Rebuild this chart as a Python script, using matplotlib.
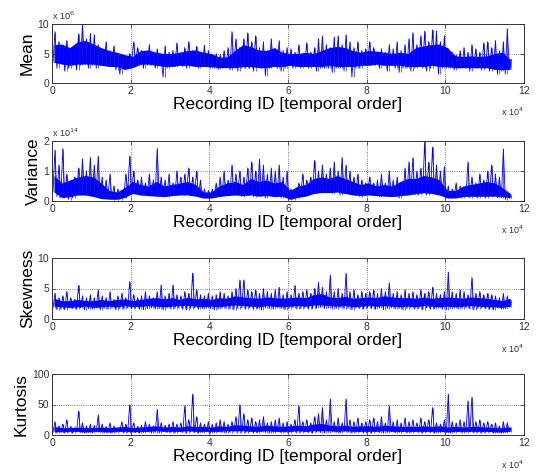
import numpy as np
import matplotlib.pyplot as plt

plt.rcParams['font.family'] = ['Liberation Sans', 'DejaVu Sans']

# Values.
# *_lo / *_hi : lowest and highest value in each bin of 1000 recordings
# *_core_lo / *_core_hi : edges of the dense band, every 2000 recordings
bin_size = 1000
core_step = 2000

mean_hi = [8.7, 7.0, 6.0, 7.2, 5.5, 6.0, 8.3, 10.0, 7.5, 8.4,
           8.2, 6.5, 5.5, 7.0, 5.5, 6.3, 5.0, 4.8, 4.5, 5.0,
           7.0, 6.0, 5.5, 5.2, 6.5, 5.0, 5.8, 4.5, 6.3, 5.2,
           5.5, 6.8, 5.2, 6.0, 7.0, 5.5, 6.2, 5.2, 6.4, 5.5,
           4.5, 5.0, 4.8, 5.5, 6.0, 8.7, 7.5, 6.0, 7.5, 8.5,
           7.0, 8.0, 6.0, 7.0, 5.5, 7.5, 5.8, 7.2, 5.5, 6.0,
           5.8, 5.2, 6.5, 5.0, 6.8, 5.2, 6.0, 7.5, 8.0, 6.5,
           6.0, 7.8, 8.0, 6.5, 8.2, 7.0, 6.0, 7.0, 5.5, 5.8,
           7.0, 6.0, 5.2, 5.8, 5.2, 6.5, 5.8, 7.0, 5.5, 6.5,
           7.5, 8.5, 6.5, 8.0, 8.8, 7.0, 9.0, 8.8, 7.0, 8.0,
           5.8, 5.2, 4.8, 5.5, 6.0, 5.2, 6.5, 5.8, 5.2, 6.8,
           7.0, 6.0, 7.2, 5.5, 7.0, 9.2, 4.0]
mean_lo = [3.5, 2.5, 3.5, 2.0, 2.5, 3.0, 2.2, 3.0, 3.5, 2.5,
           3.0, 2.5, 3.0, 3.0, 3.2, 2.8, 2.2, 1.5, 2.5, 3.0,
           3.5, 3.5, 3.0, 2.5, 3.0, 3.0, 2.5, 3.0, 1.0, 2.5,
           3.0, 2.8, 3.0, 2.8, 2.5, 3.0, 3.0, 2.5, 3.0, 2.7,
           2.5, 2.5, 2.3, 2.8, 2.8, 2.2, 3.0, 2.0, 2.5, 2.5,
           2.5, 2.0, 3.0, 2.5, 1.2, 2.5, 3.0, 2.5, 2.0, 2.5,
           3.0, 2.5, 3.0, 2.5, 2.8, 2.5, 3.0, 2.0, 2.5, 2.5,
           2.5, 1.8, 2.5, 2.5, 2.0, 3.0, 1.0, 2.5, 2.5, 3.0,
           3.0, 3.0, 3.0, 2.5, 3.0, 2.0, 3.0, 2.5, 1.8, 2.5,
           2.5, 2.0, 2.5, 2.8, 2.5, 2.0, 2.5, 3.0, 1.5, 2.5,
           2.5, 2.5, 2.2, 2.5, 2.8, 2.5, 2.0, 2.5, 2.5, 2.2,
           2.5, 2.0, 2.5, 1.5, 2.0, 1.5, 2.5]
mean_core_hi = [6.5, 6.6, 6.0, 7.0, 7.2, 6.6, 6.0, 5.5, 5.2, 4.8,
                4.5, 5.5, 5.6, 5.2, 5.0, 5.0, 5.2, 5.5, 5.6, 5.2,
                5.0, 4.4, 4.4, 5.5, 6.5, 6.2, 5.6, 5.5, 6.0, 5.2,
                5.0, 5.0, 5.2, 5.0, 5.5, 6.0, 6.2, 6.0, 5.5, 5.2,
                5.5, 5.4, 5.2, 5.0, 5.2, 5.0, 6.0, 6.3, 6.5, 6.6,
                6.0, 4.6, 4.5, 4.6, 4.5, 4.6, 5.0, 5.2, 4.0]
mean_core_lo = [3.5, 3.2, 3.0, 3.2, 3.2, 3.2, 3.0, 2.8, 2.8, 2.3,
                2.6, 3.2, 3.2, 3.0, 2.8, 2.8, 3.0, 3.0, 2.8, 2.8,
                2.8, 2.6, 2.6, 2.6, 2.8, 2.8, 2.6, 2.6, 2.8, 2.8,
                3.0, 2.8, 2.8, 2.8, 2.8, 3.0, 2.8, 2.8, 2.8, 3.0,
                3.0, 3.2, 3.0, 3.0, 3.0, 2.8, 2.8, 2.8, 3.0, 2.8,
                2.8, 2.6, 2.6, 2.6, 2.6, 2.6, 2.3, 2.3, 2.3]

var_hi = [1.7, 1.2, 1.75, 0.9, 0.6, 0.8, 1.1, 1.4, 1.0, 1.45,
          1.2, 1.5, 0.8, 0.7, 0.9, 0.5, 0.4, 0.3, 0.9, 1.5,
          1.0, 0.7, 0.8, 0.6, 0.9, 0.7, 1.75, 0.8, 0.7, 0.9,
          0.6, 1.0, 0.8, 0.9, 1.1, 0.8, 1.0, 0.7, 0.4, 0.35,
          0.4, 0.6, 0.8, 1.0, 0.7, 1.2, 0.9, 1.0, 0.8, 1.1,
          1.3, 1.0, 1.4, 1.2, 0.9, 1.1, 1.0, 1.2, 0.8, 1.0,
          0.4, 0.3, 0.6, 0.9, 0.7, 0.8, 1.35, 1.0, 1.2, 0.9,
          1.1, 1.3, 1.0, 1.45, 1.2, 1.0, 0.8, 0.9, 0.7, 0.6,
          0.8, 0.6, 0.7, 0.9, 0.6, 1.0, 0.7, 0.8, 0.6, 1.1,
          1.3, 1.45, 1.0, 1.1, 2.0, 1.3, 1.8, 1.2, 1.0, 1.15,
          0.5, 0.4, 0.6, 0.5, 0.4, 1.3, 0.8, 0.6, 0.9, 0.7,
          1.0, 1.2, 0.9, 0.8, 1.74, 0.3, 0.2]
var_lo = [0.3, 0.15, 0.1, 0.1, 0.05, 0.1, 0.2, 0.2, 0.25, 0.2,
          0.2, 0.25, 0.15, 0.1, 0.15, 0.05, 0.05, 0.05, 0.1, 0.3,
          0.3, 0.25, 0.2, 0.2, 0.25, 0.2, 0.25, 0.2, 0.15, 0.15,
          0.2, 0.2, 0.25, 0.2, 0.3, 0.2, 0.2, 0.15, 0.1, 0.1,
          0.1, 0.15, 0.2, 0.25, 0.2, 0.25, 0.2, 0.25, 0.15, 0.2,
          0.2, 0.15, 0.2, 0.25, 0.1, 0.2, 0.15, 0.2, 0.1, 0.15,
          0.05, 0.05, 0.1, 0.2, 0.2, 0.25, 0.3, 0.3, 0.3, 0.35,
          0.3, 0.25, 0.3, 0.2, 0.3, 0.25, 0.2, 0.2, 0.15, 0.2,
          0.25, 0.2, 0.2, 0.15, 0.2, 0.2, 0.2, 0.15, 0.1, 0.2,
          0.2, 0.3, 0.2, 0.2, 0.25, 0.2, 0.3, 0.25, 0.2, 0.2,
          0.1, 0.1, 0.15, 0.1, 0.1, 0.15, 0.1, 0.15, 0.1, 0.15,
          0.1, 0.15, 0.2, 0.1, 0.1, 0.05, 0.1]
var_core_hi = [0.85, 0.6, 0.7, 0.8, 0.85, 0.8, 0.6, 0.35, 0.3, 0.45,
               0.65, 0.55, 0.5, 0.65, 0.5, 0.55, 0.6, 0.65, 0.55, 0.3,
               0.3, 0.5, 0.6, 0.65, 0.55, 0.75, 0.65, 0.7, 0.6, 0.65,
               0.35, 0.5, 0.55, 0.75, 0.8, 0.75, 0.85, 0.75, 0.65, 0.55,
               0.6, 0.5, 0.55, 0.5, 0.65, 0.75, 0.75, 0.85, 0.8, 0.7,
               0.35, 0.35, 0.5, 0.55, 0.6, 0.65, 0.6, 0.45, 0.25]
var_core_lo = [0.3, 0.12, 0.15, 0.2, 0.2, 0.15, 0.08, 0.06, 0.06, 0.12,
               0.25, 0.2, 0.18, 0.16, 0.15, 0.18, 0.2, 0.2, 0.16, 0.1,
               0.1, 0.15, 0.18, 0.2, 0.18, 0.2, 0.16, 0.18, 0.15, 0.16,
               0.06, 0.12, 0.16, 0.25, 0.28, 0.28, 0.3, 0.25, 0.2, 0.18,
               0.2, 0.18, 0.16, 0.15, 0.18, 0.2, 0.25, 0.28, 0.25, 0.2,
               0.1, 0.1, 0.15, 0.16, 0.16, 0.16, 0.16, 0.15, 0.1]

skew_hi = [4.2, 3.5, 3.8, 4.5, 3.5, 3.2, 5.5, 3.8, 3.5, 4.0,
           3.5, 4.8, 3.8, 3.5, 4.5, 3.2, 3.8, 4.2, 3.5, 6.1,
           4.0, 3.5, 3.8, 4.5, 3.8, 3.5, 4.5, 5.6, 3.8, 4.2,
           5.6, 4.0, 3.8, 4.5, 4.2, 7.5, 4.8, 4.0, 3.8, 4.2,
           3.8, 4.0, 4.5, 4.2, 3.8, 4.5, 5.0, 6.4, 6.4, 4.8,
           4.5, 4.8, 4.2, 5.0, 4.5, 4.2, 4.8, 5.2, 4.0, 4.5,
           4.0, 5.5, 4.2, 4.5, 4.8, 4.2, 5.0, 6.0, 5.2, 4.5,
           7.2, 4.5, 5.0, 4.2, 7.5, 4.5, 4.8, 4.0, 4.5, 4.2,
           4.5, 4.8, 4.2, 5.0, 4.5, 5.9, 4.2, 4.5, 4.0, 4.8,
           4.2, 4.5, 4.0, 4.8, 4.2, 4.5, 5.2, 4.2, 4.0, 4.5,
           7.7, 4.5, 4.2, 4.8, 4.5, 4.0, 6.8, 4.2, 4.5, 4.0,
           4.2, 4.0, 3.8, 3.5, 4.2, 3.8, 3.0]
skew_lo = [1.8, 1.5, 1.6, 1.5, 1.8, 1.7, 1.6, 1.8, 1.5, 1.7,
           1.6, 1.8, 1.5, 1.7, 1.6, 1.8, 1.5, 1.7, 1.6, 1.8,
           1.7, 1.8, 1.6, 1.5, 1.7, 1.8, 1.6, 1.7, 1.5, 1.8,
           1.6, 1.7, 1.8, 1.6, 1.5, 1.7, 1.8, 1.6, 1.7, 1.8,
           1.7, 1.5, 1.6, 1.8, 1.7, 1.6, 1.5, 1.7, 1.8, 1.6,
           1.8, 1.6, 1.7, 1.5, 1.8, 1.7, 1.6, 1.8, 1.7, 1.5,
           1.7, 1.8, 1.6, 1.7, 1.8, 1.6, 1.7, 1.8, 1.9, 1.7,
           1.8, 1.6, 1.7, 1.8, 1.6, 1.7, 1.5, 1.8, 1.7, 1.6,
           1.8, 1.7, 1.6, 1.8, 1.5, 1.7, 1.8, 1.6, 1.7, 1.5,
           1.7, 1.8, 1.6, 1.7, 1.5, 1.8, 1.6, 1.7, 1.8, 1.6,
           1.5, 1.7, 1.8, 1.6, 1.7, 1.8, 1.6, 1.5, 1.7, 1.8,
           1.7, 1.6, 1.5, 1.8, 1.6, 1.7, 1.9]
skew_core_hi = [3.4, 3.0, 3.0, 3.2, 3.0, 3.0, 3.2, 3.0, 3.2, 3.3,
                3.0, 3.2, 3.4, 3.5, 3.3, 3.5, 3.2, 3.6, 3.3, 3.4,
                3.2, 3.5, 3.4, 3.8, 3.6, 3.5, 3.4, 3.6, 3.5, 3.4,
                3.5, 3.6, 3.5, 4.0, 4.2, 3.6, 3.5, 3.7, 3.4, 3.5,
                3.6, 3.5, 3.8, 3.6, 3.5, 3.5, 3.4, 3.6, 3.4, 3.5,
                3.6, 3.5, 3.4, 3.6, 3.5, 3.4, 3.2, 3.0, 3.4]
skew_core_lo = [2.1, 2.0, 1.9, 2.0, 2.1, 1.9, 2.0, 2.1, 2.0, 2.2,
                2.0, 2.1, 2.2, 2.1, 2.0, 2.1, 2.2, 2.2, 2.1, 2.0,
                2.1, 2.0, 2.2, 2.3, 2.2, 2.1, 2.0, 2.2, 2.1, 2.0,
                2.1, 2.2, 2.1, 2.3, 2.3, 2.2, 2.1, 2.2, 2.0, 2.1,
                2.2, 2.1, 2.2, 2.1, 2.0, 2.1, 2.0, 2.2, 2.1, 2.0,
                2.1, 2.0, 2.1, 2.2, 2.1, 2.0, 2.0, 1.9, 2.1]

kurt_hi = [22, 15, 18, 25, 14, 12, 39, 20, 15, 18,
           16, 33, 18, 14, 20, 15, 12, 22, 18, 50,
           20, 14, 16, 22, 18, 15, 42, 20, 16, 18,
           22, 18, 20, 48, 25, 67, 30, 20, 18, 22,
           18, 20, 25, 22, 18, 22, 30, 50, 35, 25,
           28, 22, 25, 30, 20, 22, 25, 28, 20, 22,
           18, 25, 48, 22, 25, 20, 30, 35, 45, 25,
           59, 22, 28, 20, 59, 25, 22, 28, 20, 22,
           25, 28, 22, 30, 20, 48, 22, 25, 20, 28,
           22, 25, 20, 28, 22, 25, 45, 20, 18, 25,
           67, 22, 20, 25, 22, 56, 62, 22, 25, 20,
           22, 18, 20, 15, 22, 20, 12]
kurt_lo = [4, 3, 5, 3, 4, 3, 5, 4, 3, 4,
           3, 5, 4, 3, 4, 3, 4, 5, 3, 4,
           5, 4, 3, 4, 5, 3, 4, 3, 5, 4,
           4, 3, 5, 4, 3, 5, 4, 3, 4, 5,
           3, 4, 5, 4, 3, 4, 5, 3, 4, 4,
           5, 3, 4, 5, 4, 3, 4, 5, 3, 4,
           4, 5, 3, 4, 5, 4, 3, 5, 4, 3,
           4, 5, 4, 3, 5, 4, 3, 4, 5, 3,
           4, 3, 5, 4, 3, 4, 5, 3, 4, 5,
           3, 4, 5, 4, 3, 5, 4, 3, 4, 5,
           4, 3, 4, 5, 3, 4, 5, 3, 4, 3,
           4, 5, 3, 4, 3, 4, 5]
kurt_core_hi = [14, 12, 12, 13, 12, 12, 13, 12, 13, 14,
                12, 13, 14, 15, 13, 14, 13, 15, 14, 14,
                13, 15, 14, 17, 16, 15, 14, 16, 15, 14,
                15, 16, 15, 18, 19, 16, 15, 16, 14, 15,
                15, 14, 16, 15, 14, 14, 14, 15, 14, 15,
                13, 14, 13, 14, 14, 13, 12, 12, 13]
kurt_core_lo = [6, 5, 6, 6, 5, 6, 6, 5, 6, 6,
                5, 6, 6, 7, 6, 6, 6, 7, 6, 6,
                6, 6, 7, 7, 7, 6, 6, 7, 6, 6,
                6, 7, 6, 7, 7, 7, 6, 7, 6, 6,
                6, 6, 7, 6, 6, 6, 6, 6, 6, 6,
                5, 6, 6, 6, 6, 6, 5, 5, 6]

panels = [
    ('Mean', mean_lo, mean_hi, mean_core_lo, mean_core_hi, [0, 5, 10], ['0', '5', '10'], '6'),
    ('Variance', var_lo, var_hi, var_core_lo, var_core_hi, [0, 1, 2], ['0', '1', '2'], '14'),
    ('Skewness', skew_lo, skew_hi, skew_core_lo, skew_core_hi, [0, 5, 10], ['0', '5', '10'], None),
    ('Kurtosis', kurt_lo, kurt_hi, kurt_core_lo, kurt_core_hi, [0, 50, 100], ['0', '50', '100'], None),
]
x_ticks = [0, 20000, 40000, 60000, 80000, 100000, 120000]
x_ticklabels = ['0', '2', '4', '6', '8', '10', '12']

W, H = 538, 475
fig = plt.figure(figsize=(W / 100, H / 100), dpi=100)
# axes extents in pixels from the top: (top, bottom)
boxes = [(24, 83), (141, 201), (258, 319), (374, 435)]
left, right = 52, 524

for (name, lo, hi, clo, chi, yt, ytl, yexp), (top, bot) in zip(panels, boxes):
    ax = fig.add_axes([left / W, 1 - bot / H, (right - left) / W, (bot - top) / H])
    n = len(lo)
    xc = np.arange(len(clo)) * core_step + 500
    # dense band
    ax.fill_between(xc, clo, chi, color='#0000ff', lw=0)
    # the signal swings between the low and high value of each bin
    xz = np.arange(2 * n) * (bin_size / 2) + bin_size / 4
    yz = np.column_stack([lo, hi]).ravel()
    ax.plot(xz, yz, color='#0000ff', lw=0.6)
    ax.vlines(xz[1::2], lo, hi, color='#1515d0', lw=0.45)
    ax.set_xlim(0, 120000)
    ax.set_ylim(yt[0], yt[-1])
    ax.set_xticks(x_ticks)
    ax.set_xticklabels(x_ticklabels)
    ax.set_yticks(yt)
    ax.set_yticklabels(ytl)
    ax.grid(True, linestyle=':', color='#555555', linewidth=0.6)
    ax.set_axisbelow(True)
    ax.tick_params(direction='in', length=3, width=0.5, labelsize=7.5,
                   top=True, right=True, pad=2, colors='#333333')
    for s in ax.spines.values():
        s.set_linewidth(0.7)
        s.set_color('#333333')
    ax.set_xlabel('Recording ID [temporal order]', fontsize=12.5, labelpad=1)
    ax.set_ylabel(name, fontsize=12.5, labelpad=2)
    ax.text(1.0, -0.38, r'x 10$^{4}$', transform=ax.transAxes, fontsize=6.5,
            ha='right', va='top', color='#333333')
    if yexp:
        ax.text(0.0, 1.03, r'x 10$^{%s}$' % yexp, transform=ax.transAxes,
                fontsize=6.5, ha='left', va='bottom', color='#333333')

fig.savefig('out.png', dpi=100, facecolor='white')
